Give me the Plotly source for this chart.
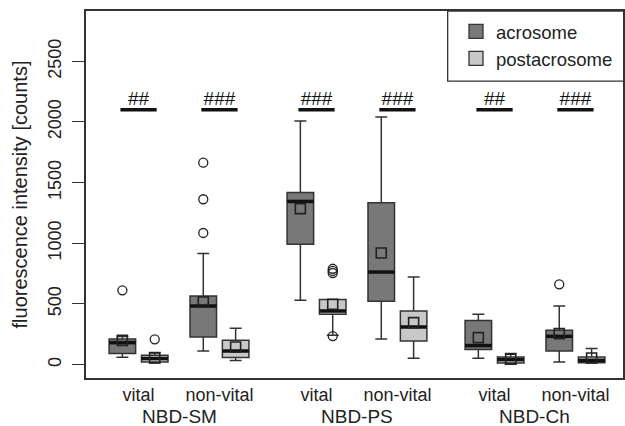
import plotly.graph_objects as go

# ---------------- data ----------------
group_labels = ["NBD-SM", "NBD-PS", "NBD-Ch"]
group_centers = [2.75, 8.25, 13.75]
state_labels = ["vital", "non-vital", "vital", "non-vital", "vital", "non-vital"]
state_centers = [1.5, 4.0, 7.0, 9.5, 12.5, 15.0]

acro_pos = [1, 3.5, 6.5, 9, 12, 14.5]
post_pos = [2, 4.5, 7.5, 10, 13, 15.5]

# acrosome
acro_low = [60, 112, 530, 211, 52, 21]
acro_q1 = [91, 228, 992, 522, 124, 112]
acro_med = [181, 483, 1345, 763, 157, 233]
acro_q3 = [210, 566, 1418, 1335, 363, 283]
acro_high = [232, 915, 2008, 2041, 415, 483]
acro_mean = [200, 516, 1286, 920, 222, 255]
acro_out = [[612], [1085, 1363, 1665], [], [], [], [662]]

# postacrosome
post_low = [16, 33, 241, 52, 2, 13]
post_q1 = [21, 58, 415, 195, 13, 16]
post_med = [50, 112, 442, 310, 41, 35]
post_q3 = [77, 200, 536, 442, 63, 63]
post_high = [99, 300, 536, 722, 91, 132]
post_mean = [55, 145, 497, 346, 45, 54]
post_out = [[208], [], [235, 755, 772, 790], [], [], []]

# significance marks
sig_labels = ["##", "###", "###", "###", "##", "###"]
sig_level = 2100

y_ticks = [0, 500, 1000, 1500, 2000, 2500]

# ---------------- styling ----------------
ACRO = "#787878"
POST = "#c8c8c8"
LINE = "#333333"
TXT = "#222222"
FONT = "Liberation Sans, Arial, sans-serif"
BOXW = 0.82

fig = go.Figure()


def add_series(pos, low, q1, med, q3, high, mean, outs, color, name):
    fig.add_trace(go.Box(
        x=pos, q1=q1, median=med, q3=q3, lowerfence=low, upperfence=high,
        width=BOXW, whiskerwidth=0.45, fillcolor=color,
        line=dict(color=LINE, width=1.5), boxpoints=False,
        showlegend=False, name=name, hoverinfo="skip"))
    # thick median
    mx, my = [], []
    for p, m in zip(pos, med):
        mx += [p - BOXW / 2, p + BOXW / 2, None]
        my += [m, m, None]
    fig.add_trace(go.Scatter(x=mx, y=my, mode="lines",
                             line=dict(color="#111111", width=3.5),
                             showlegend=False, hoverinfo="skip"))
    # mean squares
    fig.add_trace(go.Scatter(x=pos, y=mean, mode="markers",
                             marker=dict(symbol="square-open", size=10, color="#222222",
                                         line=dict(width=1.6)),
                             showlegend=False, hoverinfo="skip"))
    # outliers
    ox, oy = [], []
    for p, o in zip(pos, outs):
        for v in o:
            ox.append(p)
            oy.append(v)
    fig.add_trace(go.Scatter(x=ox, y=oy, mode="markers",
                             marker=dict(symbol="circle-open", size=9, color="#222222",
                                         line=dict(width=1.3)),
                             showlegend=False, hoverinfo="skip"))


add_series(acro_pos, acro_low, acro_q1, acro_med, acro_q3, acro_high, acro_mean, acro_out, ACRO, "acrosome")
add_series(post_pos, post_low, post_q1, post_med, post_q3, post_high, post_mean, post_out, POST, "postacrosome")

# significance bars + labels
sx, sy = [], []
for c in state_centers:
    sx += [c - 0.56, c + 0.56, None]
    sy += [sig_level, sig_level, None]
fig.add_trace(go.Scatter(x=sx, y=sy, mode="lines", line=dict(color="#111111", width=3.5),
                         showlegend=False, hoverinfo="skip"))
fig.add_trace(go.Scatter(x=state_centers, y=[sig_level] * len(state_centers), mode="text",
                         text=sig_labels, textposition="top center",
                         textfont=dict(size=19, color="#111111", family=FONT),
                         showlegend=False, hoverinfo="skip"))

# legend entries
for nm, col in [("acrosome", ACRO), ("postacrosome", POST)]:
    fig.add_trace(go.Scatter(x=[None], y=[None], mode="markers", name=nm,
                             marker=dict(symbol="square", size=14, color=col,
                                         line=dict(color=LINE, width=1.3))))

# group labels
for g, c in zip(group_labels, group_centers):
    fig.add_annotation(x=c, y=0, xref="x", yref="paper", text=g, showarrow=False,
                       yanchor="top", yshift=-26, font=dict(size=19, color=TXT, family=FONT))

# legend frame
fig.add_shape(type="rect", xref="paper", yref="paper", x0=0.6735, x1=1.02, y0=0.809, y1=1.0,
              line=dict(color=LINE, width=1.3), fillcolor="rgba(0,0,0,0)")

fig.update_layout(
    width=625, height=426,
    margin=dict(l=86, r=0, t=11, b=48),
    paper_bgcolor="white", plot_bgcolor="white",
    font=dict(family=FONT, size=18, color=TXT),
    legend=dict(x=0.689, y=0.995, xanchor="left", yanchor="top",
                bgcolor="rgba(0,0,0,0)", borderwidth=0,
                font=dict(size=18.5, color=TXT, family=FONT), tracegroupgap=0),
    xaxis=dict(range=[-0.124, 16.47], showgrid=False, zeroline=False,
               showline=True, linecolor=LINE, linewidth=1.5, mirror=True,
               tickvals=state_centers, ticktext=state_labels, ticks="",
               ticklabelstandoff=0, tickfont=dict(size=18, color=TXT, family=FONT)),
    yaxis=dict(range=[-110.5, 2915], showgrid=False, zeroline=False,
               showline=True, linecolor=LINE, linewidth=1.5, mirror=True,
               tickvals=y_ticks, ticks="outside", ticklen=12, tickwidth=1.3, tickcolor=LINE,
               tickangle=-90, ticklabelstandoff=4,
               tickfont=dict(size=18, color=TXT, family=FONT),
               title=dict(text="fluorescence intensity [counts]", standoff=12,
                          font=dict(size=20, color=TXT, family=FONT))),
)

fig.write_html("out.html")
